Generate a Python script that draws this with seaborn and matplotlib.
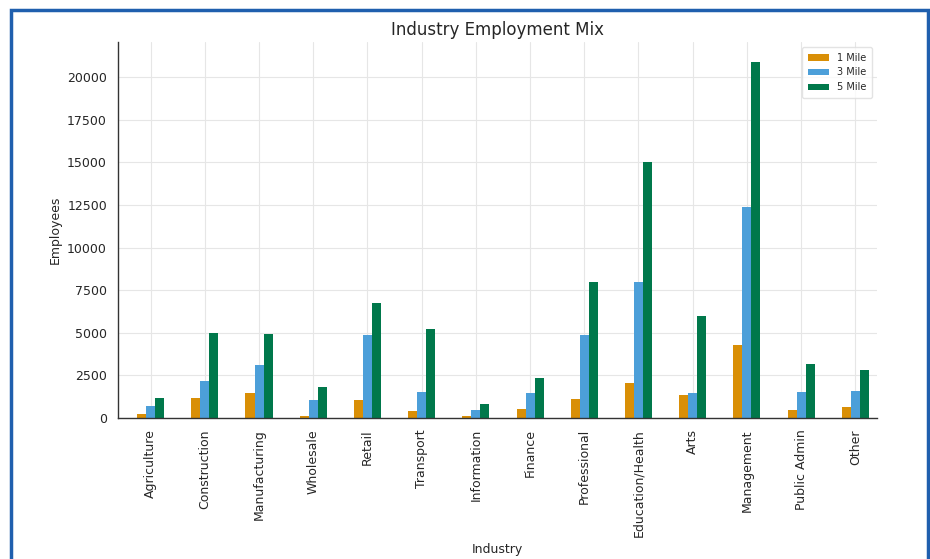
import pandas as pd
import seaborn as sns
import matplotlib.pyplot as plt
from matplotlib.patches import Rectangle

# values
industries = ["Agriculture", "Construction", "Manufacturing", "Wholesale", "Retail",
              "Transport", "Information", "Finance", "Professional", "Education/Health",
              "Arts", "Management", "Public Admin", "Other"]
mile_1 = [250, 1200, 1500, 150, 1050, 400, 100, 550, 1100, 2050, 1350, 4300, 450, 650]
mile_3 = [700, 2150, 3100, 1050, 4900, 1550, 500, 1450, 4900, 8000, 1450, 12400, 1550, 1600]
mile_5 = [1200, 5000, 4950, 1800, 6750, 5200, 850, 2350, 8000, 15000, 6000, 20900, 3150, 2800]
rings = ["1 Mile", "3 Mile", "5 Mile"]

wide = pd.DataFrame({"Industry": industries, "1 Mile": mile_1, "3 Mile": mile_3, "5 Mile": mile_5})
df = wide.melt(id_vars="Industry", var_name="Ring", value_name="Employees")

sns.set_theme(style="whitegrid")
plt.rcParams['font.family'] = ['DejaVu Sans']

fig = plt.figure(figsize=(9.3, 5.59), dpi=100)
ax = fig.add_axes([0.127, 0.252, 0.816, 0.673])

palette = {"1 Mile": "#D98F06", "3 Mile": "#4C9FD9", "5 Mile": "#00784B"}
sns.barplot(data=df, x="Industry", y="Employees", hue="Ring", hue_order=rings,
            palette=palette, width=0.5, gap=0, saturation=1, linewidth=0,
            edgecolor="none", ax=ax)

ax.set_title("Industry Employment Mix", fontsize=12, pad=5)
ax.set_xlabel("Industry", fontsize=9)
ax.set_ylabel("Employees", fontsize=9)
ax.tick_params(axis="x", labelrotation=90, labelsize=9, pad=2)
ax.tick_params(axis="y", labelsize=9, pad=2)
ax.set_xlim(-0.6, 13.4)
ax.set_ylim(0, 22050)
ax.set_yticks(range(0, 20001, 2500))

ax.grid(True, color="#e6e6e6", linewidth=0.8)
ax.set_axisbelow(True)
for side in ["top", "right"]:
    ax.spines[side].set_visible(False)
for side in ["left", "bottom"]:
    ax.spines[side].set_color("#333333")
    ax.spines[side].set_linewidth(1.0)

leg = ax.legend(loc="upper right", fontsize=7, title=None, frameon=True,
                handlelength=2.2, borderpad=0.6)
leg.get_frame().set_edgecolor("#dddddd")

# blue frame around the chart
fig.patches.append(Rectangle((11 / 930, -0.05), (928 - 11) / 930, 1.05 - 10 / 559,
                             transform=fig.transFigure, fill=False,
                             edgecolor="#1F5FAE", linewidth=2.5))

fig.savefig("out.png", dpi=100)
